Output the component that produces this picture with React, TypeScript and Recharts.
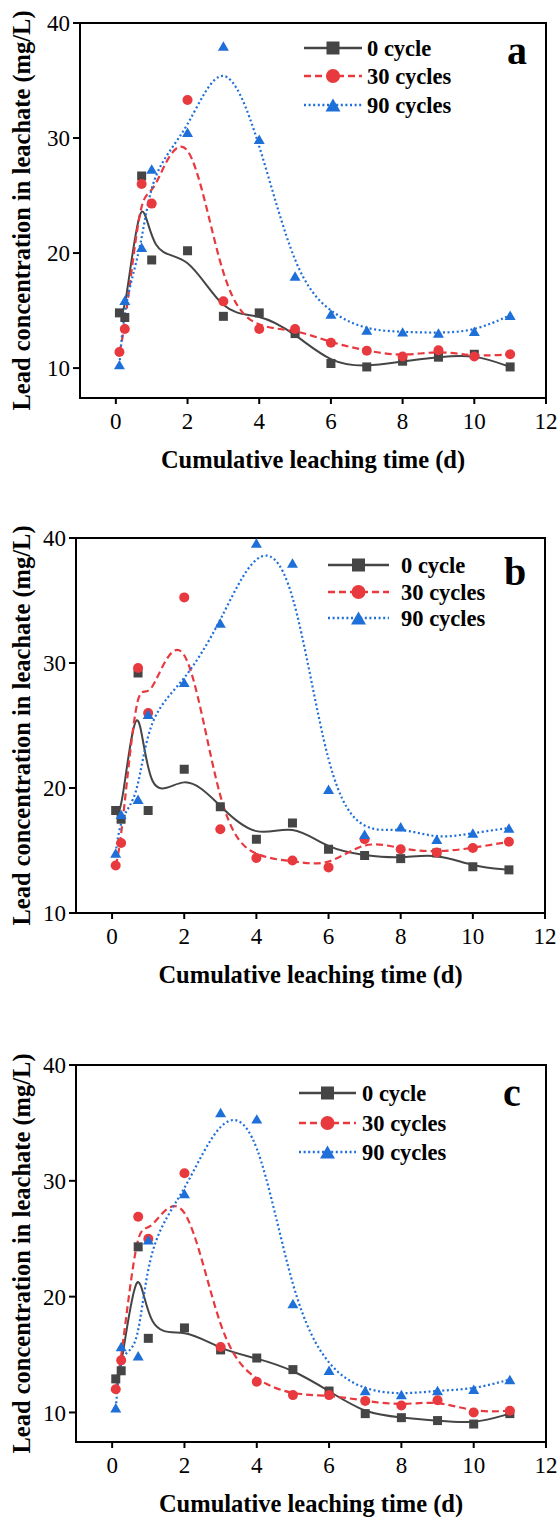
import React from 'react';
import { LineChart, Line, XAxis, YAxis, ReferenceArea, Legend, Label } from 'recharts';

// Sampling times (d) and axis ticks
const LEACH_DAYS = [0.1, 0.25, 0.72, 1, 2, 3, 4, 5, 6, 7, 8, 9, 10, 11];
const X_TICKS = [0, 2, 4, 6, 8, 10, 12];
const Y_TICKS = [10, 20, 30, 40];
const SERIES_LABELS = ['0 cycle', '30 cycles', '90 cycles'];
const PANEL_LETTERS = ['a', 'b', 'c'];
const X_TITLE = 'Cumulative leaching time (d)';
const Y_TITLE = 'Lead concentration in leachate (mg/L)';

// Panel a – Pb in leachate (mg/L)
const A_0_CYCLE = [14.8, 14.4, 26.7, 19.4, 20.2, 14.5, 14.8, 13.0, 10.4, 10.1, 10.6, 10.95, 11.2, 10.1];
const A_30_CYCLES = [11.4, 13.4, 26.0, 24.3, 33.3, 15.8, 13.4, 13.4, 12.2, 11.5, 11.0, 11.55, 11.0, 11.2];
const A_90_CYCLES = [10.3, 15.9, 20.5, 27.3, 30.5, 38.0, 29.9, 18.0, 14.7, 13.3, 13.15, 13.05, 13.2, 14.6];

// Panel b
const B_0_CYCLE = [18.2, 17.5, 29.2, 18.2, 21.5, 18.5, 15.9, 17.2, 15.1, 14.6, 14.35, 14.8, 13.7, 13.45];
const B_30_CYCLES = [13.8, 15.6, 29.6, 26.0, 35.25, 16.7, 14.4, 14.2, 13.65, 15.9, 15.1, 14.85, 15.2, 15.7];
const B_90_CYCLES = [14.8, 17.9, 19.1, 25.9, 28.45, 33.2, 39.6, 38.0, 19.9, 16.3, 16.9, 15.9, 16.4, 16.8];

// Panel c
const C_0_CYCLE = [12.9, 13.6, 24.3, 16.4, 17.3, 15.4, 14.7, 13.7, 11.85, 9.9, 9.55, 9.3, 9.0, 9.9];
const C_30_CYCLES = [12.0, 14.5, 26.9, 25.0, 30.65, 15.65, 12.65, 11.5, 11.5, 11.0, 10.6, 11.05, 10.0, 10.15];
const C_90_CYCLES = [10.4, 15.7, 14.9, 24.9, 28.9, 35.9, 35.35, 19.4, 13.65, 11.9, 11.55, 11.9, 12.0, 12.85];

const FONT = '"Liberation Serif", "Times New Roman", serif';
const X_AXIS_HEIGHT = 75;

const SERIES_STYLES = [
  { key: 's0', color: '#454545', dash: undefined as string | undefined, width: 2, shape: 'square', dotSize: 9, legendSize: 13 },
  { key: 's30', color: '#e8393e', dash: '7 4', width: 2.2, shape: 'circle', dotSize: 10, legendSize: 14 },
  { key: 's90', color: '#1f6fd9', dash: '2 2.6', width: 2.2, shape: 'triangle', dotSize: 11, legendSize: 15 },
];

function buildRows(s0: number[], s30: number[], s90: number[]) {
  return LEACH_DAYS.map((day, i) => ({ day, s0: s0[i], s30: s30[i], s90: s90[i] }));
}

const PANELS = [
  {
    top: 0,
    height: 478,
    plot: { left: 80, right: 546, top: 23, bottom: 398 },
    yMin: 7.4,
    rows: buildRows(A_0_CYCLE, A_30_CYCLES, A_90_CYCLES),
    legend: { x1: 304, x2: 362, textX: 367, rowsY: [48, 76, 105] },
    letterPos: { x: 517, y: 64 },
  },
  {
    top: 490,
    height: 500,
    plot: { left: 76, right: 545, top: 48, bottom: 423 },
    yMin: 10,
    rows: buildRows(B_0_CYCLE, B_30_CYCLES, B_90_CYCLES),
    legend: { x1: 328, x2: 389, textX: 401, rowsY: [75, 102, 128] },
    letterPos: { x: 515, y: 95 },
  },
  {
    top: 1000,
    height: 517,
    plot: { left: 76, right: 546, top: 65, bottom: 442 },
    yMin: 7.45,
    rows: buildRows(C_0_CYCLE, C_30_CYCLES, C_90_CYCLES),
    legend: { x1: 299, x2: 356, textX: 362, rowsY: [93, 123, 152] },
    letterPos: { x: 512, y: 106 },
  },
];

function Marker({ shape, cx, cy, size, color }: { shape: string; cx: number; cy: number; size: number; color: string }) {
  if (shape === 'square') {
    return <rect x={cx - size / 2} y={cy - size / 2} width={size} height={size} fill={color} />;
  }
  if (shape === 'circle') {
    return <circle cx={cx} cy={cy} r={size / 2} fill={color} />;
  }
  const h = size * 0.86;
  return (
    <polygon
      points={`${cx},${cy - h / 2} ${cx - size / 2},${cy + h / 2} ${cx + size / 2},${cy + h / 2}`}
      fill={color}
    />
  );
}

function Overlay({ panel, letter }: { panel: (typeof PANELS)[number]; letter: string }) {
  const { legend, letterPos } = panel;
  const mid = (legend.x1 + legend.x2) / 2;
  return (
    <svg width={558} height={panel.height} style={{ display: 'block', overflow: 'visible' }}>
      {SERIES_STYLES.map((s, i) => {
        const y = legend.rowsY[i];
        return (
          <g key={s.key}>
            <line
              x1={legend.x1}
              x2={legend.x2}
              y1={y}
              y2={y}
              stroke={s.color}
              strokeWidth={s.width + 0.3}
              strokeDasharray={s.dash}
            />
            <Marker shape={s.shape} cx={mid} cy={y} size={s.legendSize} color={s.color} />
            <text
              x={legend.textX}
              y={y}
              dy="0.34em"
              fontFamily={FONT}
              fontWeight="bold"
              fontSize={22.5}
              fill="#000"
            >
              {SERIES_LABELS[i]}
            </text>
          </g>
        );
      })}
      <text x={letterPos.x} y={letterPos.y} textAnchor="middle" fontFamily={FONT} fontWeight="bold" fontSize={40} fill="#000">
        {letter}
      </text>
    </svg>
  );
}

function Panel({ panel, letter }: { panel: (typeof PANELS)[number]; letter: string }) {
  const { plot, height, yMin } = panel;
  const yMid = (plot.top + plot.bottom) / 2;
  const xMid = (plot.left + plot.right) / 2;
  return (
    <div style={{ position: 'absolute', left: 0, top: panel.top, width: 558, height }}>
      <LineChart
        width={558}
        height={height}
        data={panel.rows}
        margin={{ top: plot.top, right: 558 - plot.right, bottom: height - plot.bottom - X_AXIS_HEIGHT, left: 0 }}
      >
        <XAxis
          type="number"
          dataKey="day"
          domain={[-1, 12]}
          ticks={X_TICKS}
          interval={0}
          allowDataOverflow
          height={X_AXIS_HEIGHT}
          tickSize={6}
          tickMargin={9}
          axisLine={{ stroke: '#000', strokeWidth: 2 }}
          tickLine={{ stroke: '#000', strokeWidth: 2 }}
          tick={{ fill: '#000', fontSize: 23, fontFamily: FONT }}
        >
          <Label
            content={() => (
              <text
                x={xMid}
                y={plot.bottom + 70}
                textAnchor="middle"
                fontFamily={FONT}
                fontWeight="bold"
                fontSize={24.5}
                fill="#000"
              >
                {X_TITLE}
              </text>
            )}
          />
        </XAxis>
        <YAxis
          type="number"
          domain={[yMin, 40]}
          ticks={Y_TICKS}
          interval={0}
          allowDataOverflow
          width={plot.left}
          tickSize={7}
          tickMargin={3}
          axisLine={{ stroke: '#000', strokeWidth: 2 }}
          tickLine={{ stroke: '#000', strokeWidth: 2 }}
          tick={{ fill: '#000', fontSize: 23, fontFamily: FONT }}
        >
          <Label
            content={() => (
              <text
                x={30}
                y={yMid}
                transform={`rotate(-90 30 ${yMid})`}
                textAnchor="middle"
                fontFamily={FONT}
                fontWeight="bold"
                fontSize={24.5}
                fill="#000"
              >
                {Y_TITLE}
              </text>
            )}
          />
        </YAxis>
        <ReferenceArea x1={-1} x2={12} y1={yMin} y2={40} fill="none" stroke="#000" strokeWidth={2} />
        {SERIES_STYLES.map((s, i) => (
          <Line
            key={s.key}
            name={SERIES_LABELS[i]}
            dataKey={s.key}
            type="basis"
            stroke={s.color}
            strokeWidth={s.width}
            strokeDasharray={s.dash}
            isAnimationActive={false}
            activeDot={false}
            dot={(p: any) => (
              <Marker key={`${s.key}-${p.index}`} shape={s.shape} cx={p.cx} cy={p.cy} size={s.dotSize} color={s.color} />
            )}
          />
        ))}
        <Legend
          layout="vertical"
          align="center"
          verticalAlign="middle"
          wrapperStyle={{ position: 'absolute', left: 0, top: 0, width: 558, height, pointerEvents: 'none' }}
          content={() => <Overlay panel={panel} letter={letter} />}
        />
      </LineChart>
    </div>
  );
}

export default function App() {
  return (
    <div style={{ position: 'absolute', left: 0, top: 0, width: 558, height: 1517, background: '#fff' }}>
      {PANELS.map((p, i) => (
        <Panel key={PANEL_LETTERS[i]} panel={p} letter={PANEL_LETTERS[i]} />
      ))}
    </div>
  );
}
